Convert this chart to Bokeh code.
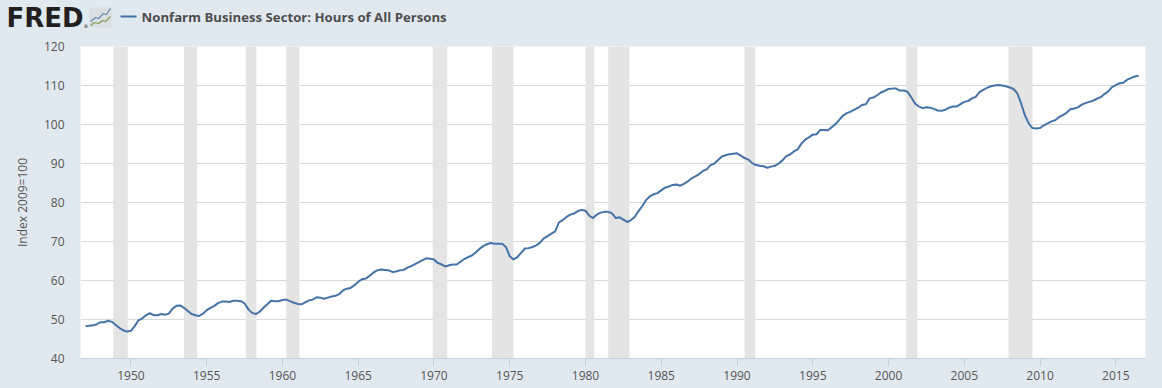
from bokeh.plotting import figure
from bokeh.embed import file_html
from bokeh.layouts import column
from bokeh.resources import INLINE
from bokeh.core.properties import value
from bokeh.models import Range1d, FixedTicker

START_YEAR = 1947.0
QUARTER = 0.25
hours = [
    48.3, 48.4, 48.5, 48.8,  # 1947
    49.3, 49.3, 49.7, 49.4,
    48.6, 47.8, 47.2, 46.9,
    47.1, 48.3, 49.8, 50.3,  # 1950
    51.1, 51.6, 51.1, 51.1,
    51.4, 51.2, 51.5, 52.8,
    53.5, 53.6, 53.0, 52.2,
    51.4, 51.1, 50.9, 51.5,
    52.4, 53.0, 53.5, 54.2,  # 1955
    54.6, 54.6, 54.5, 54.8,
    54.8, 54.7, 54.1, 52.6,
    51.7, 51.4, 52.0, 53.0,
    53.9, 54.8, 54.7, 54.7,
    55.0, 55.1, 54.7, 54.3,  # 1960
    54.0, 53.9, 54.4, 54.9,
    55.1, 55.7, 55.6, 55.3,
    55.6, 55.9, 56.1, 56.5,
    57.5, 57.9, 58.1, 58.8,
    59.7, 60.3, 60.5, 61.2,  # 1965
    62.0, 62.6, 62.8, 62.7,
    62.6, 62.2, 62.3, 62.6,
    62.7, 63.3, 63.7, 64.2,
    64.7, 65.2, 65.7, 65.6,
    65.4, 64.5, 64.1, 63.6,  # 1970
    63.9, 64.1, 64.1, 64.8,
    65.5, 66.0, 66.4, 67.2,
    68.1, 68.8, 69.3, 69.6,
    69.4, 69.4, 69.4, 68.6,
    66.2, 65.4, 66.0, 67.1,  # 1975
    68.2, 68.3, 68.6, 69.0,
    69.7, 70.8, 71.4, 72.0,
    72.6, 74.9, 75.5, 76.3,
    76.9, 77.2, 77.8, 78.1,
    77.9, 76.6, 76.0, 76.9,  # 1980
    77.4, 77.6, 77.6, 77.2,
    76.0, 76.2, 75.6, 75.0,
    75.5, 76.3, 77.8, 79.1,
    80.6, 81.6, 82.1, 82.4,
    83.1, 83.8, 84.1, 84.5,  # 1985
    84.6, 84.3, 84.8, 85.4,
    86.2, 86.7, 87.3, 88.1,
    88.5, 89.6, 90.0, 90.9,
    91.8, 92.1, 92.4, 92.5,
    92.6, 92.0, 91.4, 91.0,  # 1990
    90.1, 89.6, 89.4, 89.3,
    88.9, 89.2, 89.4, 90.0,
    90.8, 91.9, 92.3, 93.1,
    93.6, 95.1, 96.1, 96.7,
    97.4, 97.5, 98.6, 98.6,  # 1995
    98.5, 99.3, 100.1, 101.2,
    102.3, 102.9, 103.3, 103.8,
    104.3, 105.0, 105.2, 106.7,
    106.9, 107.5, 108.2, 108.6,
    109.1, 109.2, 109.2, 108.7,  # 2000
    108.7, 108.4, 107.0, 105.4,
    104.6, 104.2, 104.4, 104.3,
    104.0, 103.6, 103.5, 103.8,
    104.3, 104.6, 104.6, 105.2,
    105.8, 106.0, 106.7, 107.1,  # 2005
    108.3, 108.9, 109.4, 109.8,
    110.0, 110.1, 110.0, 109.8,
    109.5, 109.1, 108.0, 105.4,
    102.4, 100.3, 99.1, 99.0,
    99.1, 99.8, 100.3, 100.8,  # 2010
    101.1, 101.9, 102.4, 103.0,
    103.9, 104.1, 104.4, 105.1,
    105.5, 105.8, 106.1, 106.6,
    107.0, 107.8, 108.5, 109.6,
    110.1, 110.6, 110.7, 111.5,  # 2015
    111.9, 112.3, 112.5,
]
dates = [START_YEAR + i * QUARTER for i in range(len(hours))]

recession_start = [1948.83, 1953.5, 1957.58, 1960.25, 1969.92, 1973.83, 1980.0, 1981.5, 1990.5, 2001.17, 2007.92]
recession_end = [1949.79, 1954.37, 1958.28, 1961.12, 1970.87, 1975.25, 1980.58, 1982.9, 1991.2, 2001.9, 2009.5]

x_ticks = [1950, 1955, 1960, 1965, 1970, 1975, 1980, 1985, 1990, 1995, 2000, 2005, 2010, 2015]
y_ticks = [40, 50, 60, 70, 80, 90, 100, 110, 120]
series_title = "Nonfarm Business Sector: Hours of All Persons"
y_title = "Index 2009=100"

BG = "#e1e9f0"
LINE = "#4572a7"
FONT = "Open Sans"
TEXT = "#555555"
W, H, HEAD = 1162, 388, 38

# header strip: its data coordinates are the page's pixels
h = figure(
    width=W, height=HEAD, x_range=Range1d(0, W), y_range=Range1d(HEAD, 0),
    output_backend="svg", toolbar_location=None,
    min_border=0, outline_line_color=None, frame_align=False,
    background_fill_color=BG, border_fill_color=BG,
)
h.axis.visible = False
h.grid.visible = False
h.text([6], [17.5], text=["FRED"], text_font=value("DejaVu Sans"), text_font_style="bold",
       text_font_size="26px", text_color="#231f20", text_baseline="middle")
h.text([83], [25], text=["®"], text_font=value("DejaVu Sans"), text_font_size="5px",
       text_color="#231f20", text_baseline="middle")
h.quad(left=[89], right=[111], top=[7], bottom=[27], fill_color="#d9dfe2", line_color=None)
h.line([90, 95, 98, 103, 106, 110], [21, 17, 18, 13, 14, 8], line_color="#5f8db5", line_width=1.2)
h.line([90, 94, 98, 102, 105, 110], [25, 22, 23, 20, 21, 16], line_color="#7da04d", line_width=1.2)
h.line([120, 136], [16, 16], line_color=LINE, line_width=2)
h.text([141], [16], text=[series_title], text_font=value(FONT), text_font_style="bold",
       text_font_size="13.2px", text_color="#4d4d4d", text_baseline="middle")

p = figure(
    width=W, height=H - HEAD, frame_width=1065, frame_height=312,
    x_range=Range1d(1946.67, 2016.96), y_range=Range1d(40, 120),
    output_backend="svg", toolbar_location=None, frame_align=False,
    min_border_left=80, min_border_right=17, min_border_top=8, min_border_bottom=30,
    background_fill_color="white", border_fill_color=BG, outline_line_color=None,
)

p.quad(left=recession_start, right=recession_end, bottom=40, top=120,
       fill_color="#e4e4e4", line_color=None)
p.line(dates, hours, line_color=LINE, line_width=2, line_join="round")

p.xgrid.visible = False
p.ygrid.grid_line_color = "#d8d8d8"
p.ygrid.grid_line_width = 1
p.ygrid.ticker = FixedTicker(ticks=y_ticks)

xa = p.xaxis[0]
xa.ticker = FixedTicker(ticks=x_ticks)
xa.axis_line_color = "#c0d0e0"
xa.major_tick_line_color = "#c0d0e0"
xa.major_tick_out = 8
xa.major_tick_in = 0
xa.minor_tick_line_color = None
xa.major_label_standoff = 4
xa.major_label_text_font = FONT
xa.major_label_text_font_size = "12px"
xa.major_label_text_color = TEXT

ya = p.yaxis[0]
ya.ticker = FixedTicker(ticks=y_ticks)
ya.axis_line_color = None
ya.major_tick_line_color = None
ya.minor_tick_line_color = None
ya.major_tick_out = 0
ya.major_tick_in = 0
ya.major_label_standoff = 16
ya.major_label_text_font = FONT
ya.major_label_text_font_size = "12px"
ya.major_label_text_color = TEXT
ya.axis_label = y_title
ya.axis_label_text_font = FONT
ya.axis_label_text_font_size = "12px"
ya.axis_label_text_font_style = "normal"
ya.axis_label_text_color = TEXT
ya.axis_label_standoff = 10

layout = column(h, p, spacing=0, styles={"background-color": BG})
open("out.html", "w").write(file_html(layout, INLINE))
